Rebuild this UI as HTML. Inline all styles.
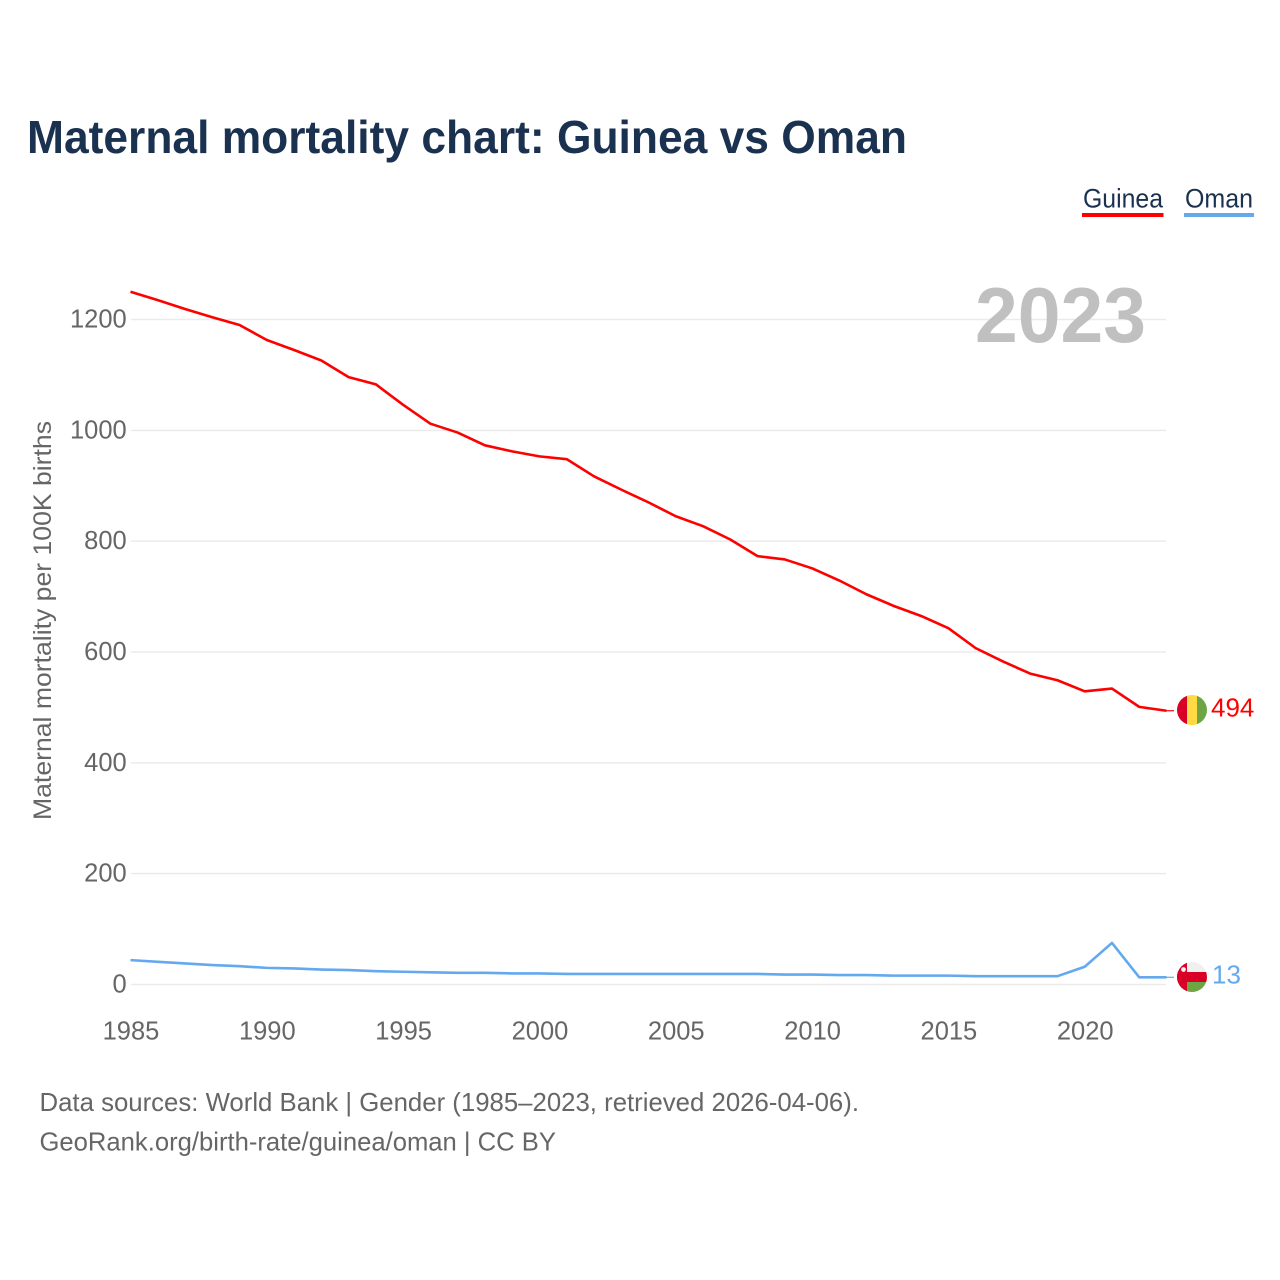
<!DOCTYPE html>
<html lang="en">
<head>
<meta charset="utf-8">
<title>Maternal mortality chart: Guinea vs Oman</title>
<style>
html,body{margin:0;padding:0;background:#fff;width:1280px;height:1280px;overflow:hidden}
svg{display:block}
text{font-family:"Liberation Sans",sans-serif}
</style>
</head>
<body>
<svg id="chart" width="1280" height="1280" viewBox="0 0 1280 1280" xmlns="http://www.w3.org/2000/svg">
  <defs>
    <clipPath id="flag-clip-guinea"><circle id="clip-guinea" cx="1192" cy="710" r="15"/></clipPath>
    <clipPath id="flag-clip-oman"><circle id="clip-oman" cx="1192" cy="977" r="15"/></clipPath>
  </defs>
  <rect width="1280" height="1280" fill="#ffffff"/>
  <text x="27" y="153" font-size="46" font-weight="700" fill="#1a3150" textLength="880" lengthAdjust="spacingAndGlyphs">Maternal mortality chart: Guinea vs Oman</text>

  <g>
    <g>
      <text x="1083" y="207.5" font-size="27" fill="#1a3150" textLength="80" lengthAdjust="spacingAndGlyphs">Guinea</text>
      <rect x="1082" y="213" width="81.5" height="4" fill="#ff0000"/>
    </g>
    <g>
      <text x="1185" y="207.5" font-size="27" fill="#1a3150" textLength="68" lengthAdjust="spacingAndGlyphs">Oman</text>
      <rect x="1184" y="213" width="70" height="4" fill="#64a8ee"/>
    </g>
  </g>

  <g id="grid"></g>
  <g id="y-axis"></g>
  <g id="x-axis"></g>
  <text transform="translate(51,820) rotate(-90)" font-size="25" fill="#666666" textLength="399" lengthAdjust="spacingAndGlyphs">Maternal mortality per 100K births</text>
  <text id="year-label" x="975" y="342" font-size="78" font-weight="700" fill="#c0c0c0" textLength="171" lengthAdjust="spacingAndGlyphs">2023</text>

  <g id="series"></g>

  <g id="flag-guinea" clip-path="url(#flag-clip-guinea)">
    <rect id="g-red" x="1177" y="695" width="10" height="30" fill="#d80027"/>
    <rect id="g-yel" x="1187" y="695" width="10" height="30" fill="#ffda44"/>
    <rect id="g-grn" x="1197" y="695" width="10" height="30" fill="#6da544"/>
  </g>
  <g id="flag-oman" clip-path="url(#flag-clip-oman)">
    <rect x="1177" y="962" width="30" height="30" fill="#f0f0f0"/>
    <rect x="1187" y="982" width="20" height="10" fill="#6da544"/>
    <rect x="1177" y="962" width="10" height="30" fill="#d80027"/>
    <rect x="1177" y="972" width="30" height="10" fill="#d80027"/>
    <circle cx="1183.5" cy="969.5" r="2.4" fill="#f0f0f0"/>
  </g>

  <text id="end-guinea" x="1211" y="717" font-size="26" fill="#ff0000"></text>
  <text id="end-oman" x="1212" y="984" font-size="26" fill="#64a8ee"></text>

  <g>
    <text x="39.5" y="1111" font-size="26" fill="#666666" textLength="819.5" lengthAdjust="spacingAndGlyphs">Data sources: World Bank | Gender (1985–2023, retrieved 2026-04-06).</text>
    <text x="39.5" y="1150.5" font-size="26" fill="#666666" textLength="516.5" lengthAdjust="spacingAndGlyphs">GeoRank.org/birth-rate/guinea/oman | CC BY</text>
  </g>
</svg>
<script>
const years = [1985,1986,1987,1988,1989,1990,1991,1992,1993,1994,1995,1996,1997,1998,1999,2000,2001,2002,2003,2004,2005,2006,2007,2008,2009,2010,2011,2012,2013,2014,2015,2016,2017,2018,2019,2020,2021,2022,2023];
const guineaValues = [1250,1235,1219,1204,1190,1163,1145,1126,1096,1083,1046,1012,996,973,962,953,948,917,893,870,845,827,803,773,767,751,729,704,683,665,643,607,583,561,549,529,534,501,494];
const omanValues = [44,41,38,35,33,30,29,27,26,24,23,22,21,21,20,20,19,19,19,19,19,19,19,19,18,18,17,17,16,16,16,15,15,15,15,32,75,13,13];
const yTicks = [0,200,400,600,800,1000,1200];
const xTicks = [1985,1990,1995,2000,2005,2010,2015,2020];

const NS = 'http://www.w3.org/2000/svg';
const xScale = function (yr) { return 130.5 + (yr - 1985) * (1166.5 - 130.5) / 38; };
const yScale = function (v) { return 984.5 - v * (984.5 - 319.5) / 1200; };

function make(tag, attrs, parent) {
  const el = document.createElementNS(NS, tag);
  Object.keys(attrs).forEach(function (k) { el.setAttribute(k, attrs[k]); });
  parent.appendChild(el);
  return el;
}

const grid = document.getElementById('grid');
const yAxis = document.getElementById('y-axis');
const xAxis = document.getElementById('x-axis');

yTicks.forEach(function (v) {
  const line = make('line', {x1: 131, x2: 1166, y1: yScale(v), y2: yScale(v), stroke: '#ebebeb', 'stroke-width': 1.5}, grid);
  
  
  const t = make('text', {x: 126.7, y: yScale(v) + 8, 'text-anchor': 'end', 'font-size': 25.5, fill: '#666666'}, yAxis);
  t.textContent = String(v);
  
  
});

xTicks.forEach(function (yr) {
  const t = make('text', {x: 131 + (yr - 1985) * (1167 - 131) / 38, y: 1039.3, 'text-anchor': 'middle', 'font-size': 25.5, fill: '#666666'}, xAxis);
  t.textContent = String(yr);
  
  
});

const seriesGroup = document.getElementById('series');
function drawSeries(values, color, name) {
  const pts = values.map(function (v, i) { return xScale(years[i]).toFixed(2) + ',' + yScale(v).toFixed(2); });
  const path = make('polyline', {points: pts.join(' '), fill: 'none', stroke: color, 'stroke-width': 2.6, 'stroke-linejoin': 'round'}, seriesGroup);
  
  
  const lastY = yScale(values[values.length - 1]);
  const tail = make('line', {x1: xScale(years[years.length - 1]), x2: 1174, y1: lastY, y2: lastY, stroke: color, 'stroke-width': 1.2}, seriesGroup);
  
  
}
drawSeries(guineaValues, '#ff0000', 'line-guinea');
drawSeries(omanValues, '#64a8ee', 'line-oman');

function placeEnd(values, flagId, baseY, labelId) {
  const last = values[values.length - 1];
  const dy = yScale(last) - baseY;
  document.getElementById(flagId).setAttribute('transform', 'translate(0,' + dy.toFixed(2) + ')');
  const label = document.getElementById(labelId);
  label.textContent = String(last);
  label.setAttribute('y', (yScale(last) + 6).toFixed(2));
}
placeEnd(guineaValues, 'flag-guinea', yScale(494), 'end-guinea');
placeEnd(omanValues, 'flag-oman', yScale(13), 'end-oman');
document.getElementById('year-label').textContent = String(years[years.length - 1]);
</script>
</body>
</html>
